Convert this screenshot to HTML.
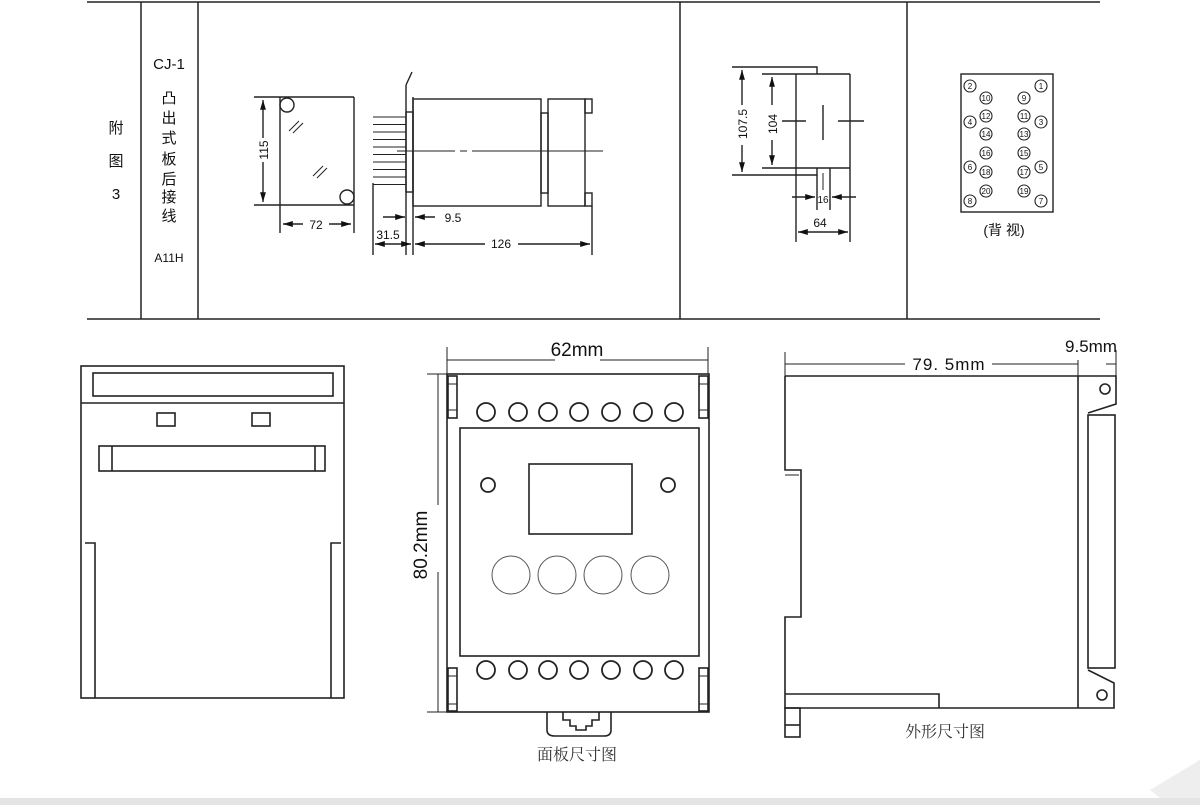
<!DOCTYPE html>
<html><head><meta charset="utf-8"><style>
html,body{margin:0;padding:0;background:#fff;}
svg{display:block;}
text{font-family:"Liberation Sans","Noto Sans CJK SC",sans-serif;fill:#111;}
.s{font-family:"Noto Serif CJK SC","Liberation Serif",serif;fill:#333;}
</style></head><body>
<svg width="1200" height="805" viewBox="0 0 1200 805" xmlns="http://www.w3.org/2000/svg">
<defs>
<marker id="a" viewBox="0 0 10 10" refX="10" refY="5" markerWidth="7" markerHeight="7" orient="auto-start-reverse"><path d="M0,2 L10,5 L0,8 z" fill="#111"/></marker>
</defs>
<rect x="0" y="0" width="1200" height="805" fill="#fff"/>
<rect x="0" y="798" width="1200" height="7" fill="#e4e4e4"/>
<path d="M1150,790 L1200,760 L1200,798 L1160,798 z" fill="#eee"/>
<g stroke="#222" stroke-width="1.5" fill="none">
<line x1="87" y1="2" x2="1100" y2="2"/>
<line x1="87" y1="319" x2="1100" y2="319"/>
<line x1="141" y1="2" x2="141" y2="319"/>
<line x1="198" y1="2" x2="198" y2="319"/>
<line x1="680" y1="2" x2="680" y2="319"/>
<line x1="907" y1="2" x2="907" y2="319"/>
</g>
<g font-size="15" text-anchor="middle">
<text x="116" y="133">附</text><text x="116" y="166">图</text><text x="116" y="199">3</text>
<text x="169" y="69">CJ-1</text>
<text x="169" y="103">凸</text><text x="169" y="123">出</text><text x="169" y="143">式</text><text x="169" y="164">板</text><text x="169" y="184">后</text><text x="169" y="202">接</text><text x="169" y="221">线</text>
</g>
<text x="169" y="262" font-size="12" text-anchor="middle">A11H</text>

<g stroke="#222" stroke-width="1.4" fill="none">
<line x1="254" y1="97" x2="354" y2="97"/>
<line x1="254" y1="205" x2="354" y2="205"/>
<line x1="280" y1="97" x2="280" y2="233"/>
<line x1="354" y1="97" x2="354" y2="233"/>
<circle cx="287" cy="105" r="7"/><circle cx="347" cy="197" r="7"/>
<line x1="263" y1="100" x2="263" y2="138" marker-start="url(#a)"/>
<line x1="263" y1="162" x2="263" y2="202" marker-end="url(#a)"/>
<line x1="283" y1="224" x2="303" y2="224" marker-start="url(#a)"/>
<line x1="329" y1="224" x2="351" y2="224" marker-end="url(#a)"/>
<path d="M289,131 L299,121 M293,133 L303,123 M313,176 L323,166 M317,178 L327,168" stroke-width="1"/>
<line x1="406" y1="85" x2="406" y2="255"/>
<line x1="406" y1="85" x2="412" y2="72"/>
<rect x="406" y="112" width="7" height="80"/>
<line x1="413" y1="97" x2="413" y2="255"/>
<rect x="413" y="99" width="128" height="107"/>
<rect x="541" y="113" width="7" height="80"/>
<rect x="548" y="99" width="37" height="107"/>
<rect x="585" y="99" width="7" height="14"/><rect x="585" y="193" width="7" height="13"/>
<line x1="592" y1="206" x2="592" y2="255"/>
<line x1="373" y1="183" x2="373" y2="255"/>
<g stroke-width="1.1"><line x1="373" y1="117" x2="406" y2="117"/><line x1="373" y1="124.5" x2="406" y2="124.5"/><line x1="373" y1="132" x2="406" y2="132"/><line x1="373" y1="139.5" x2="406" y2="139.5"/><line x1="373" y1="147" x2="406" y2="147"/><line x1="373" y1="154.5" x2="406" y2="154.5"/><line x1="373" y1="162" x2="406" y2="162"/><line x1="373" y1="169.5" x2="406" y2="169.5"/><line x1="373" y1="177" x2="406" y2="177"/><line x1="373" y1="184.5" x2="406" y2="184.5"/></g>
<path d="M397,151 L455,151 M460,151 L467,151 M472,151 L603,151" stroke-width="1.1"/>
<line x1="383" y1="217" x2="405" y2="217" marker-end="url(#a)"/>
<line x1="435" y1="217" x2="415" y2="217" marker-end="url(#a)"/>
<line x1="375" y1="244" x2="411" y2="244" marker-start="url(#a)" marker-end="url(#a)"/>
<line x1="415" y1="244" x2="485" y2="244" marker-start="url(#a)"/>
<line x1="518" y1="244" x2="590" y2="244" marker-end="url(#a)"/>
<path d="M732,67 L817,67 L817,74 L850,74 M762,74 L817,74"/>
<path d="M762,168 L817,168 L830,168 L850,168 M732,175 L817,175 L817,168 M830,168 L830,210"/>
<line x1="817" y1="175" x2="817" y2="210"/>
<line x1="796" y1="74" x2="796" y2="242"/>
<line x1="850" y1="74" x2="850" y2="242"/>
<line x1="823" y1="105" x2="823" y2="140"/>
<line x1="782" y1="121" x2="806" y2="121"/><line x1="838" y1="121" x2="864" y2="121"/>
<line x1="823" y1="173" x2="823" y2="190" stroke-width="1"/>
<line x1="742" y1="70" x2="742" y2="105" marker-start="url(#a)"/>
<line x1="742" y1="145" x2="742" y2="172" marker-end="url(#a)"/>
<line x1="772" y1="77" x2="772" y2="105" marker-start="url(#a)"/>
<line x1="772" y1="140" x2="772" y2="165" marker-end="url(#a)"/>
<line x1="792" y1="197" x2="815" y2="197" marker-end="url(#a)"/>
<line x1="856" y1="197" x2="832" y2="197" marker-end="url(#a)"/>
<line x1="798" y1="232" x2="848" y2="232" marker-start="url(#a)" marker-end="url(#a)"/>
<rect x="961" y="74" width="92" height="138"/>
<g stroke-width="1.1">
<circle cx="970" cy="86" r="6"/><circle cx="986" cy="98" r="6"/><circle cx="1041" cy="86" r="6"/><circle cx="1024" cy="98" r="6"/>
<circle cx="970" cy="122" r="6"/><circle cx="986" cy="116" r="6"/><circle cx="986" cy="134" r="6"/><circle cx="1024" cy="116" r="6"/><circle cx="1041" cy="122" r="6"/><circle cx="1024" cy="134" r="6"/>
<circle cx="986" cy="153" r="6"/><circle cx="1024" cy="153" r="6"/>
<circle cx="970" cy="167" r="6"/><circle cx="986" cy="172" r="6"/><circle cx="1024" cy="172" r="6"/><circle cx="1041" cy="167" r="6"/>
<circle cx="986" cy="191" r="6"/><circle cx="970" cy="201" r="6"/><circle cx="1024" cy="191" r="6"/><circle cx="1041" cy="201" r="6"/>
</g>
</g>
<g font-size="12" text-anchor="middle">
<text x="268" y="150" transform="rotate(-90 268 150)">115</text>
<text x="316" y="229">72</text>
<text x="453" y="222">9.5</text>
<text x="388" y="239">31.5</text>
<text x="501" y="248">126</text>
<text x="747" y="124" transform="rotate(-90 747 124)">107.5</text>
<text x="777" y="124" transform="rotate(-90 777 124)">104</text>
<text x="823" y="203" font-size="10">16</text>
<text x="820" y="227">64</text>
</g>
<g font-size="8" text-anchor="middle">
<text x="970" y="89">2</text><text x="986" y="101">10</text><text x="1041" y="89">1</text><text x="1024" y="101">9</text>
<text x="970" y="125">4</text><text x="986" y="119">12</text><text x="986" y="137">14</text><text x="1024" y="119">11</text><text x="1041" y="125">3</text><text x="1024" y="137">13</text>
<text x="986" y="156">16</text><text x="1024" y="156">15</text>
<text x="970" y="170">6</text><text x="986" y="175">18</text><text x="1024" y="175">17</text><text x="1041" y="170">5</text>
<text x="986" y="194">20</text><text x="970" y="204">8</text><text x="1024" y="194">19</text><text x="1041" y="204">7</text>
</g>
<text x="1004" y="235" font-size="14" text-anchor="middle">(背 视)</text>

<g stroke="#222" stroke-width="1.6" fill="none">
<rect x="81" y="366" width="263" height="332"/>
<line x1="81" y1="403" x2="344" y2="403"/>
<rect x="93" y="373" width="240" height="23"/>
<rect x="157" y="413" width="18" height="13"/><rect x="252" y="413" width="18" height="13"/>
<rect x="99" y="446" width="226" height="25"/>
<line x1="112" y1="446" x2="112" y2="471"/><line x1="315" y1="446" x2="315" y2="471"/>
<path d="M85,543 L95,543 L95,698"/><path d="M341,543 L331,543 L331,698"/>
</g>
<g stroke="#222" stroke-width="1.6" fill="none">
<rect x="447" y="374" width="262" height="338"/>
<g stroke-width="1"><line x1="447" y1="347" x2="447" y2="374"/><line x1="708" y1="347" x2="708" y2="374"/>
<line x1="447" y1="360" x2="555" y2="360"/><line x1="600" y1="360" x2="708" y2="360"/>
<line x1="427" y1="374" x2="447" y2="374"/><line x1="427" y1="712" x2="447" y2="712"/>
<line x1="438" y1="374" x2="438" y2="505"/><line x1="438" y1="572" x2="438" y2="712"/></g>
<rect x="448" y="376" width="9" height="42"/><rect x="699" y="376" width="9" height="42"/>
<rect x="448" y="668" width="9" height="43"/><rect x="699" y="668" width="9" height="43"/>
<line x1="448" y1="384" x2="457" y2="384" stroke-width="1"/><line x1="448" y1="410" x2="457" y2="410" stroke-width="1"/>
<line x1="699" y1="384" x2="708" y2="384" stroke-width="1"/><line x1="699" y1="410" x2="708" y2="410" stroke-width="1"/>
<line x1="448" y1="676" x2="457" y2="676" stroke-width="1"/><line x1="448" y1="704" x2="457" y2="704" stroke-width="1"/>
<line x1="699" y1="676" x2="708" y2="676" stroke-width="1"/><line x1="699" y1="704" x2="708" y2="704" stroke-width="1"/>
<g stroke-width="1.8">
<circle cx="486" cy="412" r="9"/><circle cx="518" cy="412" r="9"/><circle cx="548" cy="412" r="9"/><circle cx="579" cy="412" r="9"/><circle cx="611" cy="412" r="9"/><circle cx="643" cy="412" r="9"/><circle cx="674" cy="412" r="9"/>
<circle cx="486" cy="670" r="9"/><circle cx="518" cy="670" r="9"/><circle cx="548" cy="670" r="9"/><circle cx="579" cy="670" r="9"/><circle cx="611" cy="670" r="9"/><circle cx="643" cy="670" r="9"/><circle cx="674" cy="670" r="9"/>
<circle cx="488" cy="485" r="7"/><circle cx="668" cy="485" r="7"/>
</g>
<rect x="460" y="428" width="239" height="228"/>
<rect x="529" y="464" width="103" height="70"/>
<g stroke="#555" stroke-width="1"><circle cx="511" cy="575" r="19"/><circle cx="557" cy="575" r="19"/><circle cx="603" cy="575" r="19"/><circle cx="650" cy="575" r="19"/></g>
<path d="M547,712 L547,730 Q547,736 555,736 L604,736 Q611,736 611,730 L611,712"/>
<path d="M563,712 L563,720 L570,720 L570,726 L576,726 L576,730 L586,730 L586,726 L592,726 L592,720 L599,720 L599,712"/>
</g>
<text x="577" y="356" font-size="19" text-anchor="middle">62mm</text>
<text x="427" y="545" font-size="19" text-anchor="middle" transform="rotate(-90 427 545)">80.2mm</text>
<text x="577" y="760" font-size="16" class="s" text-anchor="middle">面板尺寸图</text>

<g stroke="#222" stroke-width="1.6" fill="none">
<path d="M785,376 L1116,376 L1116,404 L1088,413"/>
<path d="M785,376 L785,470 L801,470 L801,617 L785,617 L785,708 L1114,708 L1114,683 L1088,670"/>
<line x1="785" y1="475" x2="799" y2="475" stroke-width="1"/>
<line x1="1078" y1="376" x2="1078" y2="708"/>
<rect x="1088" y="415" width="27" height="253"/>
<path d="M785,694 L939,694 L939,708"/>
<rect x="785" y="708" width="15" height="29"/><line x1="785" y1="725" x2="800" y2="725"/>
<circle cx="1105" cy="389" r="5"/><circle cx="1102" cy="695" r="5"/>
<g stroke-width="1"><line x1="785" y1="352" x2="785" y2="376"/><line x1="785" y1="364" x2="905" y2="364"/><line x1="992" y1="364" x2="1078" y2="364"/>
<line x1="1078" y1="360" x2="1078" y2="376"/><line x1="1116" y1="350" x2="1116" y2="376"/><line x1="1106" y1="364" x2="1116" y2="364"/></g>
</g>
<text x="949" y="370" font-size="17" text-anchor="middle" letter-spacing="1">79. 5mm</text>
<text x="1091" y="352" font-size="17" text-anchor="middle">9.5mm</text>
<text x="945" y="737" font-size="16" class="s" text-anchor="middle">外形尺寸图</text>
</svg>
</body></html>
